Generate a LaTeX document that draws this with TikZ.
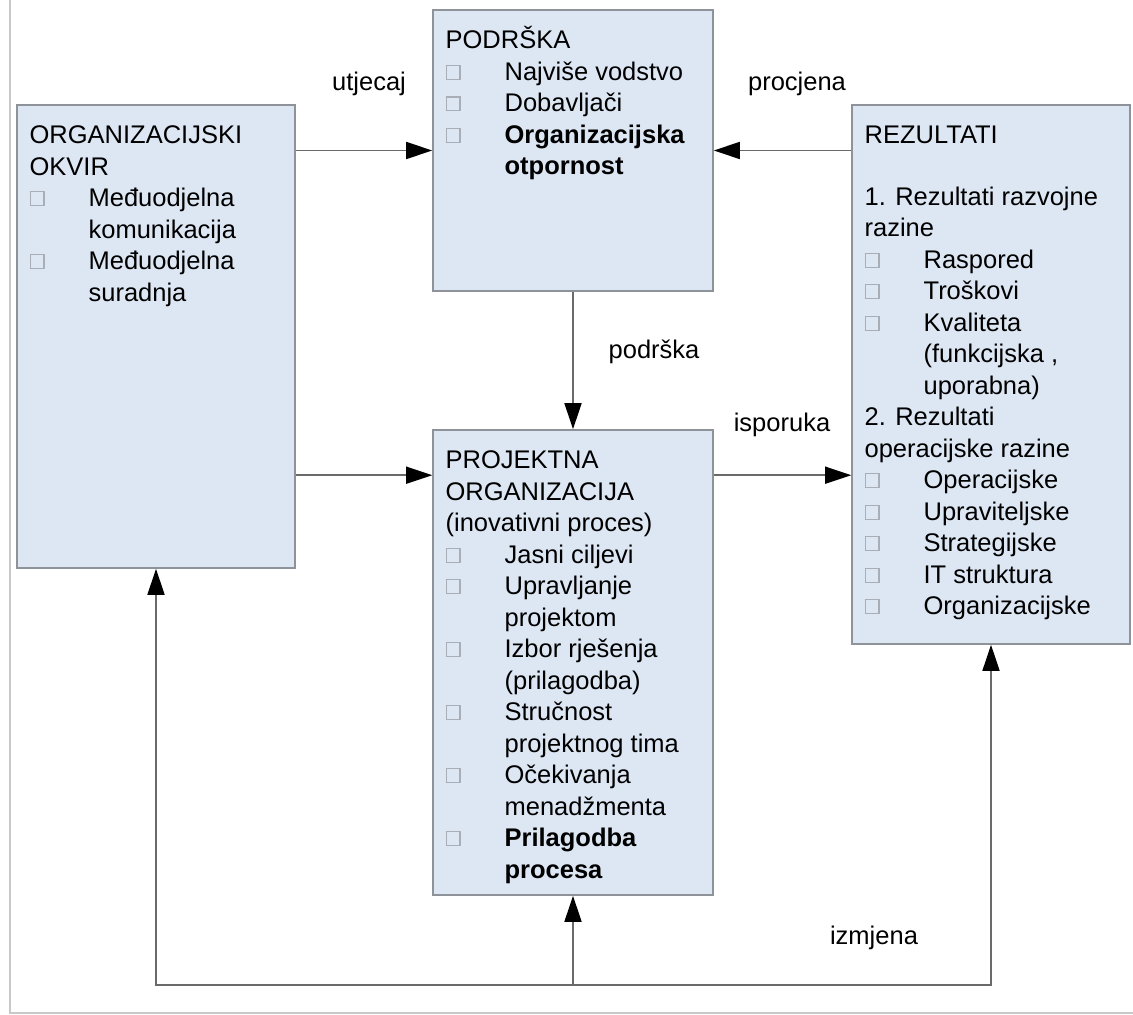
\documentclass[tikz,border=0pt]{standalone}
\usepackage{fontspec}
\setmainfont{Liberation Sans}
\usetikzlibrary{arrows.meta,positioning}
\definecolor{blokfill}{HTML}{DDE7F3}
\definecolor{blokrub}{HTML}{8E939A}
\definecolor{kvsiva}{HTML}{A9AEB6}
\definecolor{linija}{HTML}{6A6A6A}
\definecolor{okvirsiva}{HTML}{C8C8C8}
\newcommand{\kocka}{\makebox[29.5pt][l]{\raisebox{0.8pt}{\fboxsep=0pt\fboxrule=0.6pt\fcolorbox{kvsiva}{blokfill}{\rule{0pt}{6.3pt}\rule{6.3pt}{0pt}}}}}
\newcommand{\uvlaka}{\hspace*{29.5pt}}
\tikzset{blok/.style={draw=blokrub, fill=blokfill, line width=0.8pt, inner sep=0pt},
tekst/.style={anchor=north west, align=left, inner xsep=6.5pt, inner ysep=8.5pt,
  font=\fontsize{12.75pt}{15.75pt}\selectfont},
oznaka/.style={anchor=base, font=\fontsize{12.75pt}{15.75pt}\selectfont},
strelica/.style={draw=linija, line width=0.8pt, -{Triangle[length=13pt,width=8.5pt,color=black]}}
}
\begin{document}
\begin{tikzpicture}[x=0.5pt, y=-0.5pt, on grid]
  \useasboundingbox (0,0) rectangle (1133,1015);
  \draw[okvirsiva, line width=1pt] (10,0) |- (1133,1013);

  % blokovi
  \node[blok, minimum width=139pt, minimum height=231.5pt] (okvir) at (156,336.5) {};
  \node[blok, minimum width=140pt, minimum height=140.5pt] (podrska) [above right=93pt and 208.5pt of okvir] {};
  \node[blok, minimum width=140pt, minimum height=232.5pt] (projekt) [below=256pt of podrska] {};
  \node[blok, minimum width=139pt, minimum height=269.5pt] (rezultati) [below right=112pt and 209pt of podrska] {};

  % tekst u blokovima
  \node[tekst] (okvir-t) at (okvir.north west) {\strut ORGANIZACIJSKI\\OKVIR\\
    \kocka Međuodjelna\\\uvlaka komunikacija\\
    \kocka Međuodjelna\\\uvlaka suradnja};
  \node[tekst] (podrska-t) at (podrska.north west) {\strut PODRŠKA\\
    \kocka Najviše vodstvo\\
    \kocka Dobavljači\\
    \kocka\textbf{Organizacijska}\\\uvlaka\textbf{otpornost}};
  \node[tekst] (projekt-t) at (projekt.north west) {\strut PROJEKTNA\\ORGANIZACIJA\\(inovativni proces)\\
    \kocka Jasni ciljevi\\
    \kocka Upravljanje\\\uvlaka projektom\\
    \kocka Izbor rješenja\\\uvlaka (prilagodba)\\
    \kocka Stručnost\\\uvlaka projektnog tima\\
    \kocka Očekivanja\\\uvlaka menadžmenta\\
    \kocka\textbf{Prilagodba}\\\uvlaka\textbf{procesa}};
  \node[tekst] (rezultati-t) at (rezultati.north west) {\strut REZULTATI\\[15pt]
    1. Rezultati razvojne\\razine\\
    \kocka Raspored\\
    \kocka Troškovi\\
    \kocka Kvaliteta\\\uvlaka (funkcijska ,\\\uvlaka uporabna)\\
    2. Rezultati\\operacijske razine\\
    \kocka Operacijske\\
    \kocka Upraviteljske\\
    \kocka Strategijske\\
    \kocka IT struktura\\
    \kocka Organizacijske};

  % veze
  \coordinate (ulaz) at ([yshift=-23pt]projekt.north west);
  \coordinate (povrat) at (573,985);
  \draw[strelica] (okvir.east |- podrska.west) -- (podrska.west);
  \draw[strelica] (rezultati.west |- podrska.east) -- (podrska.east);
  \draw[strelica] (podrska.south) -- (projekt.north);
  \draw[strelica] (okvir.east |- ulaz) -- (ulaz);
  \draw[strelica] (projekt.east |- ulaz) -- (rezultati.west |- ulaz);
  \draw[strelica] (povrat) -| (okvir.south);
  \draw[strelica] (povrat) -- (projekt.south);
  \draw[strelica] (povrat) -| (rezultati.south);

  % oznake
  \node[oznaka] (utjecaj) at (369,91) {utjecaj};
  \node[oznaka] (procjena) at (797,91) {procjena};
  \node[oznaka] (podrska-o) at (654,359) {podrška};
  \node[oznaka] (isporuka) at (782,431) {isporuka};
  \node[oznaka] (izmjena) at (874,944) {izmjena};
\end{tikzpicture}
\end{document}
